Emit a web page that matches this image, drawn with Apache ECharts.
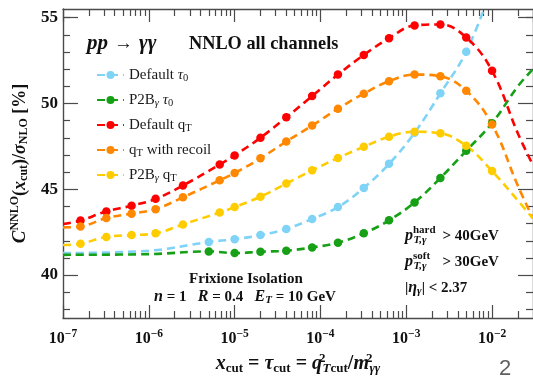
<!DOCTYPE html>
<html>
<head>
<meta charset="utf-8">
<script src="https://cdn.jsdelivr.net/npm/echarts@6/dist/echarts.min.js"></script>
<style>
  html, body { margin: 0; padding: 0; background: #fff; }
  #chart { width: 533px; height: 380px; }
</style>
</head>
<body>
<div id="chart"></div>
<script>
// Cut values (x_cut) at which each slicing variant was evaluated
const tauCuts = [5e-6, 1e-5, 2e-5, 4e-5, 8e-5, 1.6e-4, 3.2e-4, 6.3e-4, 1.25e-3, 2.5e-3, 5e-3, 1e-2];
const qtCuts = [1.6e-7, 3.2e-7, 6.3e-7, 1.2e-6, 2.5e-6, 6.7e-6, 1e-5, 2e-5, 4e-5, 8e-5, 1.6e-4, 3.2e-4, 6.3e-4, 1.25e-3, 2.5e-3, 5e-3, 1e-2];

// C^NNLO(x_cut)/sigma_NLO in percent
const defaultTau0 = [41.93, 42.09, 42.33, 42.69, 43.27, 43.96, 45.08, 46.48, 48.29, 50.59, 53.01];
const p2bTau0 = [41.38, 41.28, 41.36, 41.42, 41.61, 41.89, 42.43, 43.19, 44.23, 45.66, 47.24, 48.85];
const defaultQt = [43.18, 43.71, 44.04, 44.44, 45.22, 46.44, 46.97, 48.00, 49.19, 50.43, 51.68, 52.82, 53.80, 54.54, 54.60, 53.84, 51.90];
const qtRecoil = [42.83, 43.32, 43.58, 43.84, 44.53, 45.52, 45.94, 46.80, 47.78, 48.71, 49.69, 50.57, 51.29, 51.68, 51.58, 50.74, 48.77];
const p2bQt = [41.83, 42.22, 42.33, 42.43, 42.95, 43.65, 43.96, 44.57, 45.33, 46.10, 46.82, 47.47, 48.06, 48.35, 48.26, 47.53, 46.06];

// Fit curves continued past the sampled cuts: [x_cut, value]
const defaultTau0Fit = [[1e-7, 41.28], [1e-6, 41.42], [1e-2, 56.8]];
const p2bTau0Fit = [[1e-7, 41.18], [1e-6, 41.22], [2e-2, 51.0], [3e-2, 52.0]];
const defaultQtFit = [[1e-7, 42.98], [2e-2, 48.25], [3e-2, 46.4]];
const qtRecoilFit = [[1e-7, 42.78], [2e-2, 45.2], [3e-2, 43.3]];
const p2bQtFit = [[1e-7, 41.75], [2e-2, 44.34], [3e-2, 43.29]];

// Axis ranges and tick positions
const xMin = 1e-7, xMax = 3e-2;
const yMin = 37.5, yMax = 55.5;
const yMajorTicks = [40, 45, 50, 55];
const yMinorTicks = [38, 39, 41, 42, 43, 44, 46, 47, 48, 49, 51, 52, 53, 54, 55];

const seriesNames = ['Default τ0', 'P2Bγ τ0', 'Default qT', 'qT with recoil', 'P2Bγ qT'];
const legendRich = {
  'Default τ0': 'Default {i|τ}{s|0}',
  'P2Bγ τ0': 'P2B{si|γ} {i|τ}{s|0}',
  'Default qT': 'Default q{s|T}',
  'qT with recoil': 'q{s|T} with recoil',
  'P2Bγ qT': 'P2B{si|γ} q{s|T}'
};
const palette = ['#7fd3f7', '#16a016', '#ff0000', '#ff8800', '#ffcc00'];

const SERIF = "'Liberation Serif', 'DejaVu Serif', serif";
const AXIS_COLOR = '#4a4a4a';

const log10 = Math.log10;
const minorX = [];
for (let n = -7; n <= -2; n++) {
  for (let k = 2; k <= 9; k++) {
    const v = log10(k) + n;
    if (v < log10(xMax) - 1e-9) minorX.push(v);
  }
}

function pairs(xs, ys) { return ys.map((y, i) => [xs[i], y]); }
function fitCurve(xs, ys, extra) {
  return pairs(xs, ys).concat(extra).sort((a, b) => a[0] - b[0]);
}

const pointSets = [
  pairs(tauCuts, defaultTau0),
  pairs(tauCuts, p2bTau0),
  pairs(qtCuts, defaultQt),
  pairs(qtCuts, qtRecoil),
  pairs(qtCuts, p2bQt)
];
const curveSets = [
  fitCurve(tauCuts, defaultTau0, defaultTau0Fit),
  fitCurve(tauCuts, p2bTau0, p2bTau0Fit),
  fitCurve(qtCuts, defaultQt, defaultQtFit),
  fitCurve(qtCuts, qtRecoil, qtRecoilFit),
  fitCurve(qtCuts, p2bQt, p2bQtFit)
];

const series = [];
seriesNames.forEach((name, i) => {
  series.push({
    name: name,
    type: 'line',
    xAxisIndex: 0,
    yAxisIndex: 0,
    data: curveSets[i],
    smooth: 0.4,
    symbol: 'circle',
    symbolSize: 8,
    showSymbol: false,
    clip: true,
    silent: true,
    itemStyle: { color: palette[i] },
    lineStyle: { color: palette[i], width: 2.6, type: [8, 5] },
    z: 2
  });
});
seriesNames.forEach((name, i) => {
  series.push({
    name: name,
    type: 'scatter',
    xAxisIndex: 0,
    yAxisIndex: 0,
    data: pointSets[i],
    symbol: 'circle',
    symbolSize: 8.5,
    silent: true,
    itemStyle: { color: palette[i], opacity: 1 },
    z: 3
  });
});

const tickLine = { color: AXIS_COLOR, width: 1.2 };
const frameLine = { show: true, onZero: false, lineStyle: { color: AXIS_COLOR, width: 1.4 } };

const xAxis = [
  {
    type: 'log', logBase: 10, min: xMin, max: xMax, position: 'bottom',
    axisLine: frameLine,
    axisTick: { show: true, inside: true, length: 13, lineStyle: tickLine },
    axisLabel: {
      show: true, margin: 10, showMaxLabel: false, showMinLabel: true,
      color: '#111', fontFamily: SERIF, fontWeight: 'bold', fontSize: 16,
      formatter: v => '10{e|−' + Math.abs(Math.round(log10(v))) + '}',
      rich: { e: { fontFamily: SERIF, fontWeight: 'bold', fontSize: 11.5, color: '#111', padding: [0, 0, 9, 0] } }
    },
    splitLine: { show: false },
    name: '{i|x}{s|cut} = {i|τ}{s|cut} = {i|q}{p|2}{si|T}{s|cut}/{i|m}{p|2}{si|γγ}',
    nameLocation: 'middle',
    nameGap: 34,
    nameTextStyle: {
      color: '#111', fontFamily: SERIF, fontWeight: 'bold', fontSize: 20,
      rich: {
        i: { fontFamily: SERIF, fontWeight: 'bold', fontStyle: 'italic', fontSize: 20, color: '#111' },
        s: { fontFamily: SERIF, fontWeight: 'bold', fontSize: 13, color: '#111', padding: [9, 0, 0, 0] },
        si: { fontFamily: SERIF, fontWeight: 'bold', fontStyle: 'italic', fontSize: 13, color: '#111', padding: [9, 0, 0, 0] },
        p: { fontFamily: SERIF, fontWeight: 'bold', fontSize: 13, color: '#111', padding: [0, 0, 11, 0], width: 0.5 }
      }
    }
  },
  {
    type: 'value', min: log10(xMin), max: log10(xMax), position: 'bottom',
    axisLine: { show: false },
    axisTick: { show: true, inside: true, length: 7, lineStyle: tickLine, customValues: minorX },
    axisLabel: { show: false },
    splitLine: { show: false }
  },
  {
    type: 'log', logBase: 10, min: xMin, max: xMax, position: 'top',
    axisLine: frameLine,
    axisTick: { show: true, inside: true, length: 13, lineStyle: tickLine },
    axisLabel: { show: false },
    splitLine: { show: false }
  },
  {
    type: 'value', min: log10(xMin), max: log10(xMax), position: 'top',
    axisLine: { show: false },
    axisTick: { show: true, inside: true, length: 7, lineStyle: tickLine, customValues: minorX },
    axisLabel: { show: false },
    splitLine: { show: false }
  }
];

const yAxis = [
  {
    type: 'value', min: yMin, max: yMax, position: 'left',
    axisLine: frameLine,
    axisTick: { show: true, inside: true, length: 15, lineStyle: tickLine, customValues: yMajorTicks },
    axisLabel: {
      show: true, margin: 5, customValues: yMajorTicks,
      color: '#111', fontFamily: SERIF, fontWeight: 'bold', fontSize: 17
    },
    splitLine: { show: false },
    name: '{c|C}{p|NNLO}({i|x}{s|cut})/{i|σ}{s|NLO} [%]',
    nameLocation: 'middle',
    nameRotate: 90,
    nameGap: 29,
    nameTextStyle: {
      color: '#111', fontFamily: SERIF, fontWeight: 'bold', fontSize: 18,
      rich: {
        c: { fontFamily: SERIF, fontWeight: 'bold', fontStyle: 'italic', fontSize: 19, color: '#111' },
        i: { fontFamily: SERIF, fontWeight: 'bold', fontStyle: 'italic', fontSize: 18, color: '#111' },
        s: { fontFamily: SERIF, fontWeight: 'bold', fontSize: 12, color: '#111', padding: [8, 0, 0, 0] },
        p: { fontFamily: SERIF, fontWeight: 'bold', fontSize: 12, color: '#111', padding: [0, 0, 10, 0] }
      }
    }
  },
  {
    type: 'value', min: yMin, max: yMax, position: 'left',
    axisLine: { show: false },
    axisTick: { show: true, inside: true, length: 7, lineStyle: tickLine, customValues: yMinorTicks },
    axisLabel: { show: false },
    splitLine: { show: false }
  },
  {
    type: 'value', min: yMin, max: yMax, position: 'right',
    axisLine: frameLine,
    axisTick: { show: true, inside: true, length: 15, lineStyle: tickLine, customValues: yMajorTicks },
    axisLabel: { show: false },
    splitLine: { show: false }
  },
  {
    type: 'value', min: yMin, max: yMax, position: 'right',
    axisLine: { show: false },
    axisTick: { show: true, inside: true, length: 7, lineStyle: tickLine, customValues: yMinorTicks },
    axisLabel: { show: false },
    splitLine: { show: false }
  }
];

const bold = { fontFamily: SERIF, fontWeight: 'bold', fill: '#111' };
const annRich = {
  i: { fontFamily: SERIF, fontWeight: 'bold', fontStyle: 'italic', fontSize: 16, color: '#111' },
  s: { fontFamily: SERIF, fontWeight: 'bold', fontSize: 11, color: '#111', padding: [7, 0, 0, 0] },
  si: { fontFamily: SERIF, fontWeight: 'bold', fontStyle: 'italic', fontSize: 11, color: '#111', padding: [7, 0, 0, 0] },
  up: { fontFamily: SERIF, fontWeight: 'bold', fontSize: 11, color: '#111', padding: [0, 0, 11, 0], width: 0.5 },
  lo: { fontFamily: SERIF, fontWeight: 'bold', fontStyle: 'italic', fontSize: 11, color: '#111', padding: [9, 0, 0, 0], width: 29 }
};

function label(x, y, text, size, align, extra) {
  return {
    type: 'text', x: x, y: y, silent: true, z: 10,
    style: Object.assign({ text: text, fontSize: size, align: align || 'left', verticalAlign: 'middle', rich: annRich }, bold, extra || {})
  };
}

const titleRich = {
  i: { fontFamily: SERIF, fontWeight: 'bold', fontStyle: 'italic', fontSize: 21, color: '#111' },
  a: { fontFamily: SERIF, fontWeight: 'bold', fontSize: 19, color: '#111', padding: [0, 6, 0, 6] }
};

const graphic = [
  label(87, 44, '{i|pp}{a|→}{i|γγ}', 19, 'left', { rich: titleRich }),
  label(189, 44, 'NNLO all channels', 18.3),
  label(246, 279, 'Frixione Isolation', 15, 'center'),
  label(245, 297, '{i|n} = 1   {i|R} = 0.4   {i|E}{si|T} = 10 GeV', 15, 'center'),
  label(405, 236, '{i|p}{up|hard}{lo|T,γ}> 40GeV', 15),
  label(405, 262, '{i|p}{up|soft}{lo|T,γ}> 30GeV', 15),
  label(405, 288, '|{i|η}{si|γ}| < 2.37', 15),
  {
    type: 'text', x: 505, y: 369, silent: true, z: 10,
    style: { text: '2', fontFamily: "'Liberation Sans', 'DejaVu Sans', sans-serif", fontSize: 22, fill: '#5f5f5f', align: 'center', verticalAlign: 'middle' }
  }
];

const chart = echarts.init(document.getElementById('chart'), null, { renderer: 'canvas' });
chart.setOption({
  animation: false,
  backgroundColor: '#fff',
  grid: { left: 63, right: -3, top: 9, bottom: 57, containLabel: false },
  xAxis: xAxis,
  yAxis: yAxis,
  legend: {
    data: seriesNames,
    orient: 'vertical',
    left: 91,
    top: 61,
    itemWidth: 27,
    itemHeight: 10,
    itemGap: 7,
    selectedMode: false,
    formatter: name => legendRich[name],
    textStyle: {
      fontFamily: SERIF, fontSize: 15, color: '#1a1a1a', lineHeight: 16,
      rich: {
        i: { fontFamily: SERIF, fontStyle: 'italic', fontSize: 15, color: '#1a1a1a', lineHeight: 16 },
        s: { fontFamily: SERIF, fontSize: 10.5, color: '#1a1a1a', padding: [7, 0, 0, 0], lineHeight: 16 },
        si: { fontFamily: SERIF, fontStyle: 'italic', fontSize: 10.5, color: '#1a1a1a', padding: [7, 0, 0, 0], lineHeight: 16 }
      }
    }
  },
  series: series,
  graphic: graphic
});
</script>
</body>
</html>
